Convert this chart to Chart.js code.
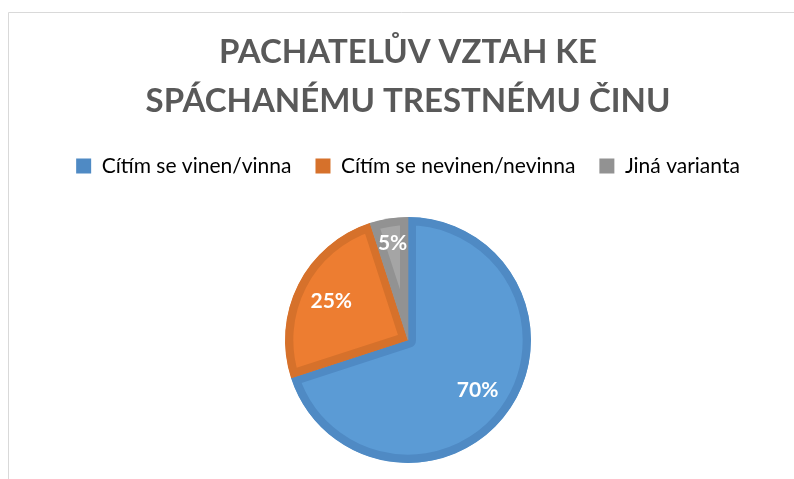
<!DOCTYPE html>
<html>
<head>
<meta charset="utf-8">
<script src="https://cdn.jsdelivr.net/npm/chart.js@4"></script>
<style>
  html, body { margin: 0; padding: 0; background: #fff; }
  #wrap { width: 794px; height: 479px; position: relative; }
</style>
</head>
<body>
<div id="wrap"><canvas id="graf"></canvas></div>
<script>
// Data z obrázku
const kategorie = ['Cítím se vinen/vinna', 'Cítím se nevinen/nevinna', 'Jiná varianta'];
const hodnoty = [70, 25, 5];
const popisky = ['70%', '25%', '5%'];

const barvyVypln = ['#5B9BD5', '#ED7D31', '#A5A5A5'];
const barvyOkraj = ['#4F8AC4', '#D6712B', '#929292'];
// kde v rámci výseče leží popisek (podíl poloměru)
const polohaPopisku = [0.70, 0.70, 0.80];

// horní okraj plochy koláče (pod legendou je v originále volné místo)
const HORNI_OKRAJ_KOLACE = 217;

// rám grafu (horní a levá linka jako v Excelu)
const ramPlugin = {
    id: 'ram',
    beforeDraw(chart) {
        const ctx = chart.ctx;
        ctx.save();
        ctx.strokeStyle = '#D9D9D9';
        ctx.lineWidth = 1;
        ctx.beginPath();
        ctx.moveTo(8.5, 479);
        ctx.lineTo(8.5, 12.5);
        ctx.lineTo(794, 12.5);
        ctx.stroke();
        ctx.restore();
    }
};

// posune horní hranu plochy grafu níž, aby koláč nebyl tak velký
const plochaPlugin = {
    id: 'plocha',
    afterLayout(chart) {
        const a = chart.chartArea;
        if (a.top < HORNI_OKRAJ_KOLACE) {
            a.top = HORNI_OKRAJ_KOLACE;
            a.height = a.bottom - a.top;
        }
    }
};

// bílé popisky procent uvnitř výsečí
const popiskyPlugin = {
    id: 'popisky',
    afterDatasetsDraw(chart) {
        const ctx = chart.ctx;
        const meta = chart.getDatasetMeta(0);
        ctx.save();
        ctx.fillStyle = '#FFFFFF';
        ctx.font = 'bold 21px Lato';
        ctx.textAlign = 'center';
        ctx.textBaseline = 'middle';
        meta.data.forEach((arc, i) => {
            const p = arc.getProps(['x', 'y', 'startAngle', 'endAngle', 'outerRadius'], true);
            const stred = (p.startAngle + p.endAngle) / 2;
            const r = p.outerRadius * polohaPopisku[i];
            ctx.fillText(popisky[i], p.x + Math.cos(stred) * r, p.y + Math.sin(stred) * r);
        });
        ctx.restore();
    }
};

const ctx = document.getElementById('graf').getContext('2d');
new Chart(ctx, {
    type: 'pie',
    data: {
        labels: kategorie,
        datasets: [{
            data: hodnoty,
            backgroundColor: barvyVypln,
            borderColor: barvyOkraj,
            borderWidth: 8,
            borderAlign: 'inner',
            hoverBorderWidth: 0
        }]
    },
    options: {
        responsive: true,
        maintainAspectRatio: false,
        animation: false,
        events: [],
        layout: {
            padding: { left: 22, right: 0, top: 12, bottom: 16 }
        },
        plugins: {
            title: {
                display: true,
                text: ['PACHATELŮV VZTAH KE', 'SPÁCHANÉMU TRESTNÉMU ČINU'],
                color: '#595959',
                font: { family: 'Lato', size: 33, weight: 'bold', lineHeight: 1.5 },
                padding: { top: 15.5, bottom: 5 }
            },
            legend: {
                display: true,
                position: 'top',
                labels: {
                    color: '#595959',
                    font: { family: 'Lato', size: 21 },
                    boxWidth: 15,
                    boxHeight: 15,
                    padding: 24,
                    generateLabels(chart) {
                        return kategorie.map((k, i) => ({
                            text: k,
                            fillStyle: barvyOkraj[i],
                            strokeStyle: barvyOkraj[i],
                            lineWidth: 0,
                            hidden: false,
                            index: i
                        }));
                    }
                }
            },
            tooltip: { enabled: false }
        }
    },
    plugins: [ramPlugin, plochaPlugin, popiskyPlugin]
});
</script>
</body>
</html>
